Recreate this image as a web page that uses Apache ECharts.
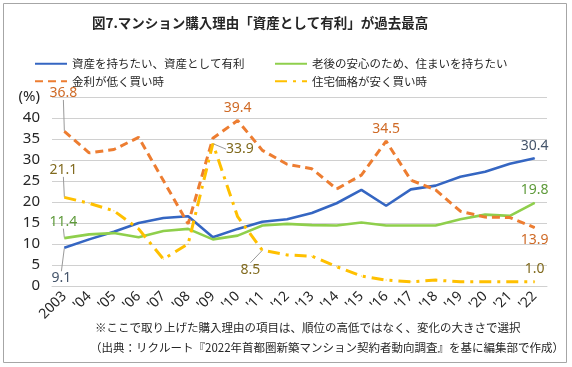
<!DOCTYPE html>
<html>
<head>
<meta charset="utf-8">
<script src="https://cdn.jsdelivr.net/npm/echarts@6/dist/echarts.min.js"></script>
<style>
html,body{margin:0;padding:0;background:#fff;}
#c{width:572px;height:367px;}
</style>
</head>
<body>
<div id="c"></div>
<script>
var years = ['2003', "'04", "'05", "'06", "'07", "'08", "'09", "'10", "'11", "'12", "'13", "'14", "'15", "'16", "'17", "'18", "'19", "'20", "'21", "'22"];
var assetValues = [9.1, 11.1, 12.9, 15.0, 16.2, 16.6, 11.6, 13.6, 15.3, 15.9, 17.4, 19.7, 22.9, 19.1, 23.0, 23.9, 26.0, 27.2, 29.1, 30.4];
var retireValues = [11.4, 12.3, 12.6, 11.6, 13.1, 13.6, 11.1, 12.0, 14.4, 14.8, 14.5, 14.4, 15.1, 14.4, 14.4, 14.4, 15.9, 17.0, 16.7, 19.8];
var rateValues = [36.8, 31.7, 32.5, 35.4, 25.1, 14.8, 35.2, 39.4, 32.3, 29.0, 27.9, 23.1, 26.4, 34.5, 25.2, 22.9, 17.8, 16.4, 16.3, 13.9];
var priceValues = [21.1, 19.7, 17.9, 13.6, 6.4, 10.0, 33.9, 16.5, 8.5, 7.4, 7.1, 4.6, 2.4, 1.4, 1.0, 1.4, 1.0, 1.0, 1.0, 1.0];
var seriesNames = ['資産を持ちたい、資産として有利', '老後の安心のため、住まいを持ちたい', '金利が低く買い時', '住宅価格が安く買い時'];
var yTicks = [0, 5, 10, 15, 20, 25, 30, 35, 40, 45];
var titleText = '図7.マンション購入理由「資産として有利」が過去最高';
var note1 = '※ここで取り上げた購入理由の項目は、順位の高低ではなく、変化の大きさで選択';
var note2 = '（出典：リクルート『2022年首都圏新築マンション契約者動向調査』を基に編集部で作成）';

var JP = '"Noto Sans CJK JP", "Noto Sans", sans-serif';
var NUM = '"Noto Sans", "Noto Sans CJK JP", sans-serif';

var colors = ['#3566c2', '#8fcf4c', '#ed7d31', '#ffc000'];
var labelColors = ['#44546a', '#5e9a3a', '#cf6a26', '#806a1e'];

var labelSpecs = [
  {0: {move: [-3, 43]}, 19: {offset: [4, 2]}},
  {0: {move: [-1, -4]}, 19: {offset: [4, -1]}},
  {0: {move: [-1, -26]}, 7: {offset: [0, 0]}, 13: {offset: [0, 0]}, 19: {pos: 'bottom', offset: [4, -1]}},
  {0: {move: [-1, -15]}, 6: {move: [27, 18]}, 8: {move: [-12, 32]}, 19: {offset: [9, 7]}}
];

function buildData(values, si) {
  return values.map(function (v, i) {
    var spec = labelSpecs[si][i];
    if (!spec) return v;
    return {
      value: v,
      label: {
        show: true,
        position: spec.pos || 'top',
        offset: spec.offset || [0, 0],
        formatter: function (p) { return p.value.toFixed(1); }
      },
      labelLine: {show: !!spec.move, lineStyle: {color: '#9a9a9a', width: 1}}
    };
  });
}

function makeLayout(si) {
  return function (params) {
    var spec = labelSpecs[si][params.dataIndex];
    if (spec && spec.move) {
      return {dx: spec.move[0], dy: spec.move[1]};
    }
    return {};
  };
}

var lineStyles = [
  {width: 2.6, type: 'solid'},
  {width: 2.6, type: 'solid'},
  {width: 3, type: [8, 5], cap: 'butt'},
  {width: 3, type: [12, 6, 3, 6], cap: 'butt'}
];
var allValues = [assetValues, retireValues, rateValues, priceValues];

var series = allValues.map(function (vals, si) {
  return {
    name: seriesNames[si],
    type: 'line',
    data: buildData(vals, si),
    symbol: 'circle',
    symbolSize: 1,
    showSymbol: true,
    itemStyle: {color: colors[si]},
    lineStyle: Object.assign({color: colors[si]}, lineStyles[si]),
    label: {show: false, color: labelColors[si], fontSize: 14, fontFamily: NUM},
    labelLine: {show: true, lineStyle: {color: '#9a9a9a', width: 1}},
    labelLayout: makeLayout(si),
    emphasis: {disabled: true},
    z: 2 + si
  };
});

var chart = echarts.init(document.getElementById('c'), null, {renderer: 'canvas'});
chart.setOption({
  animation: false,
  backgroundColor: '#fff',
  title: {
    text: titleText,
    left: 87,
    top: 11,
    textStyle: {fontSize: 13.5, fontWeight: 'bold', color: '#262626', fontFamily: JP}
  },
  legend: [
    {
      data: [seriesNames[0], seriesNames[2]],
      orient: 'vertical',
      left: 29,
      top: 53,
      itemWidth: 32,
      itemHeight: 14,
      itemGap: 6,
      itemStyle: {color: 'rgba(0,0,0,0)', borderWidth: 0},
      textStyle: {fontSize: 11.5, color: '#262626', fontFamily: JP},
      selectedMode: false
    },
    {
      data: [seriesNames[1], seriesNames[3]],
      orient: 'vertical',
      left: 269,
      top: 53,
      itemWidth: 32,
      itemHeight: 14,
      itemGap: 6,
      itemStyle: {color: 'rgba(0,0,0,0)', borderWidth: 0},
      textStyle: {fontSize: 11.5, color: '#262626', fontFamily: JP},
      selectedMode: false
    }
  ],
  grid: {left: 52, right: 25, top: 97, bottom: 81, containLabel: false},
  xAxis: {
    type: 'category',
    data: years,
    boundaryGap: true,
    axisTick: {show: false},
    axisLine: {lineStyle: {color: '#d0d0d0', width: 1}},
    axisLabel: {rotate: 45, interval: 0, margin: 8, fontSize: 14, color: '#262626', fontFamily: NUM}
  },
  yAxis: {
    type: 'value',
    min: yTicks[0],
    max: yTicks[yTicks.length - 1],
    interval: 5,
    axisLine: {show: false},
    axisTick: {show: false},
    splitLine: {lineStyle: {color: '#d0d0d0', width: 1}},
    axisLabel: {
      margin: 12,
      fontSize: 15,
      color: '#262626',
      fontFamily: NUM,
      formatter: function (v) { return v === 45 ? '(%)' : String(v); }
    }
  },
  series: series,
  graphic: [
    {
      type: 'rect',
      silent: true,
      shape: {x: 3.5, y: 3.5, width: 563, height: 359},
      style: {fill: 'none', stroke: '#a6a6a6', lineWidth: 1}
    },
    {
      type: 'text',
      left: 95,
      top: 322,
      style: {text: note1, fontSize: 11.5, fill: '#262626', fontFamily: JP}
    },
    {
      type: 'text',
      left: 90,
      top: 342,
      style: {text: note2, fontSize: 11.5, fill: '#262626', fontFamily: JP}
    }
  ]
});
</script>
</body>
</html>
